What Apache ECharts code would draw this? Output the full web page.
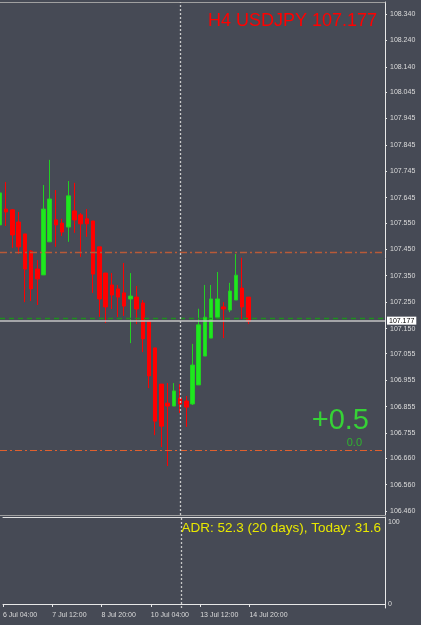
<!DOCTYPE html>
<html>
<head>
<meta charset="utf-8">
<title>H4 USDJPY</title>
<script src="https://cdn.jsdelivr.net/npm/echarts@6/dist/echarts.min.js"></script>
<style>
  html, body { margin: 0; padding: 0; background: #464a55; }
  #main { width: 421px; height: 625px; }
</style>
</head>
<body>
<div id="main"></div>
<script>
// H4 candles, broker time
var times = ['6 Jul 04:00','6 Jul 08:00','6 Jul 12:00','6 Jul 16:00','6 Jul 20:00',
  '7 Jul 00:00','7 Jul 04:00','7 Jul 08:00','7 Jul 12:00','7 Jul 16:00','7 Jul 20:00',
  '8 Jul 00:00','8 Jul 04:00','8 Jul 08:00','8 Jul 12:00','8 Jul 16:00','8 Jul 20:00',
  '9 Jul 00:00','9 Jul 04:00','9 Jul 08:00','9 Jul 12:00','9 Jul 16:00','9 Jul 20:00',
  '10 Jul 00:00','10 Jul 04:00','10 Jul 08:00','10 Jul 12:00','10 Jul 16:00','10 Jul 20:00',
  '13 Jul 00:00','13 Jul 04:00','13 Jul 08:00','13 Jul 12:00','13 Jul 16:00','13 Jul 20:00',
  '14 Jul 00:00','14 Jul 04:00','14 Jul 08:00','14 Jul 12:00','14 Jul 16:00','14 Jul 20:00'];

var opens  = [107.542,107.602,107.599,107.553,107.508,107.443,107.375,107.353,107.478,107.561,107.549,107.534,107.595,107.580,107.565,107.557,107.459,107.360,107.315,107.300,107.285,107.262,107.269,107.247,107.179,107.077,106.940,106.868,106.857,106.887,106.876,106.865,106.937,107.046,107.114,107.193,107.232,107.220,107.258,107.303,107.269];
var closes = [107.663,107.591,107.504,107.459,107.375,107.300,107.338,107.602,107.640,107.542,107.515,107.652,107.561,107.546,107.546,107.356,107.262,107.232,107.277,107.269,107.235,107.273,107.224,107.111,106.971,106.800,106.781,106.857,106.914,106.865,106.853,107.012,107.164,107.193,107.262,107.262,107.224,107.292,107.352,107.232,107.177];
var lows   = [107.530,107.538,107.455,107.432,107.250,107.254,107.239,107.353,107.478,107.459,107.500,107.478,107.512,107.421,107.497,107.285,107.194,107.171,107.224,107.194,107.198,107.095,107.167,107.061,106.925,106.747,106.702,106.630,106.857,106.831,106.778,106.861,106.937,107.046,107.114,107.193,107.114,107.212,107.258,107.186,107.167];
var highs  = [107.686,107.704,107.602,107.591,107.508,107.447,107.409,107.693,107.788,107.674,107.565,107.708,107.701,107.587,107.602,107.557,107.459,107.360,107.360,107.315,107.398,107.360,107.311,107.258,107.179,107.077,106.940,106.944,106.944,106.940,106.895,107.092,107.225,107.315,107.315,107.364,107.250,107.323,107.432,107.418,107.269];

var priceTicks = [108.340,108.240,108.140,108.045,107.945,107.845,107.745,107.645,107.550,107.450,107.350,107.250,107.150,107.055,106.955,106.855,106.755,106.660,106.560,106.460];
var subTicks = [0, 100];

var bid = 107.177;
var ask = 107.189;
var upperLevel = 107.441;
var lowerLevel = 106.687;
var weekSeparator = '13 Jul 00:00';

var titleText = 'H4 USDJPY 107.177';
var changeText = '+0.5';
var changeSubText = '0.0';
var adrText = 'ADR: 52.3 (20 days), Today: 31.6';

var candles = [];
for (var i = 0; i < times.length; i++) {
  candles.push([opens[i], closes[i], lows[i], highs[i]]);
}

var labelColor = '#dcdcdc';
var fontFamily = 'Liberation Sans, Arial, sans-serif';

function showLabel(index) {
  return index % 8 === 0 && index < times.length;
}

// plain border axis (no ticks, no labels)
function borderAxis(gridIndex, position, color) {
  return {
    type: 'category', gridIndex: gridIndex, position: position, data: times, max: 62,
    boundaryGap: false,
    axisLine: { show: true, lineStyle: { color: color } },
    axisTick: { show: false }, axisLabel: { show: false }, splitLine: { show: false }
  };
}

var separatorStyle = { color: '#c8c8c8', width: 1.3, type: [2, 2] };

var option = {
  backgroundColor: '#464a55',
  animation: false,
  title: [
    { text: titleText, right: 44, top: 12, padding: 0,
      textStyle: { color: '#ff0000', fontSize: 18, fontWeight: 'normal', fontFamily: fontFamily } },
    { text: changeText, right: 52, top: 406, padding: 0,
      textStyle: { color: '#36d236', fontSize: 29, fontWeight: 'normal', fontFamily: fontFamily } },
    { text: changeSubText, right: 59, top: 437, padding: 0,
      textStyle: { color: '#2fb42f', fontSize: 11, fontWeight: 'normal', fontFamily: fontFamily } },
    { text: adrText, right: 40, top: 521, padding: 0,
      textStyle: { color: '#e8e800', fontSize: 13.5, fontWeight: 'normal', fontFamily: fontFamily } }
  ],
  grid: [
    { left: -1, right: 36, top: 2, height: 513 },
    { left: -1, right: 36, top: 517, height: 91 }
  ],
  xAxis: [
    borderAxis(0, 'bottom', '#a0a0a0'),
    { type: 'category', gridIndex: 1, position: 'bottom', data: times, max: 62, boundaryGap: false,
      axisLine: { show: true, lineStyle: { color: '#e8e8e8' } },
      axisTick: { show: true, interval: showLabel, length: 3, lineStyle: { color: '#e8e8e8' } },
      axisLabel: { show: true, interval: showLabel, align: 'left', margin: 4,
        color: labelColor, fontSize: 7, fontFamily: fontFamily },
      splitLine: { show: false } },
    borderAxis(0, 'top', '#a0a0a0'),
    borderAxis(1, 'top', '#e0e0e0')
  ],
  yAxis: [
    { type: 'value', gridIndex: 0, position: 'right', scale: true,
      min: 106.445, max: 108.385,
      axisLine: { show: true, lineStyle: { color: '#e8e8e8' } },
      axisTick: { show: true, length: 2, customValues: priceTicks, lineStyle: { color: '#e8e8e8' } },
      axisLabel: { show: true, customValues: priceTicks, margin: 5, color: labelColor,
        fontSize: 7, fontFamily: fontFamily,
        formatter: function (v) { return v.toFixed(3); } },
      splitLine: { show: false } },
    { type: 'value', gridIndex: 1, position: 'right',
      min: -4.9, max: 106.1,
      axisLine: { show: true, lineStyle: { color: '#e8e8e8' } },
      axisTick: { show: false },
      axisLabel: { show: true, customValues: subTicks, margin: 3, color: labelColor,
        fontSize: 7, fontFamily: fontFamily },
      splitLine: { show: false } }
  ],
  series: [
    {
      type: 'candlestick',
      xAxisIndex: 0,
      yAxisIndex: 0,
      data: candles,
      barWidth: 4,
      clip: true,
      itemStyle: {
        color: '#1ee81e',
        color0: '#ff0000',
        borderColor: '#22d022',
        borderColor0: '#ff0000',
        borderWidth: 1
      },
      markLine: {
        silent: true,
        symbol: 'none',
        animation: false,
        label: { show: false },
        data: [
          { yAxis: upperLevel, lineStyle: { color: '#b85a38', width: 1.3, type: [7, 3, 2, 3] } },
          { yAxis: lowerLevel, lineStyle: { color: '#e0602e', width: 1, type: [7, 3, 2, 3] } },
          { yAxis: ask, lineStyle: { color: '#1f8f1f', width: 1.3, type: [5, 4] } },
          { yAxis: bid, lineStyle: { color: '#c4c4c4', width: 1.5, type: 'solid' },
            label: { show: true, position: 'end', distance: 2, formatter: bid.toFixed(3),
              backgroundColor: '#ffffff', color: '#000000', fontSize: 7, fontFamily: fontFamily,
              padding: [1, 2, 0, 2] } },
          { xAxis: weekSeparator, lineStyle: separatorStyle }
        ]
      }
    },
    {
      type: 'line',
      xAxisIndex: 1,
      yAxisIndex: 1,
      data: [],
      markLine: {
        silent: true,
        symbol: 'none',
        animation: false,
        label: { show: false },
        data: [ { xAxis: weekSeparator, lineStyle: separatorStyle } ]
      }
    }
  ]
};

var myChart = echarts.init(document.getElementById('main'));
myChart.setOption(option);
</script>
</body>
</html>
